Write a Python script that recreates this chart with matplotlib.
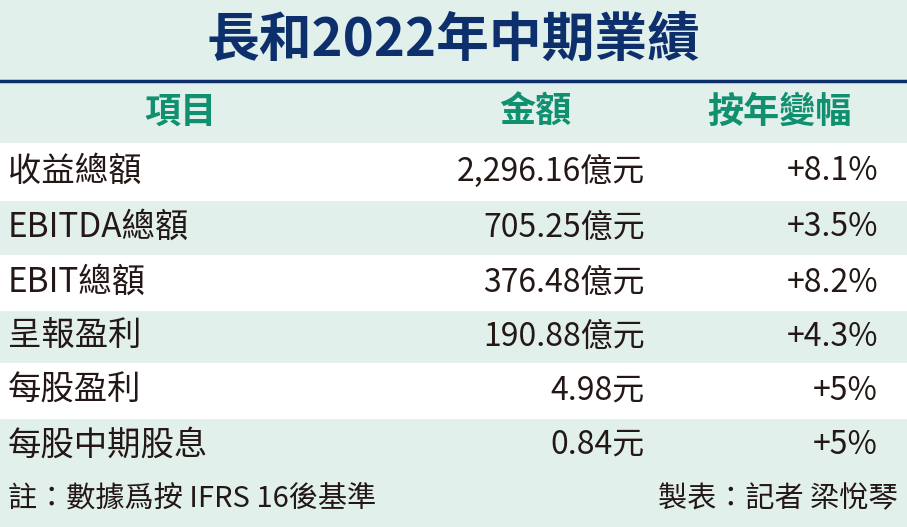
import matplotlib
matplotlib.use("Agg")
import matplotlib.pyplot as plt
from matplotlib.patches import Rectangle

plt.rcParams['font.family'] = ['Noto Sans CJK TC', 'DejaVu Sans']

title = "長和2022年中期業績"
headers = ["項目", "金額", "按年變幅"]
items = ["收益總額", "EBITDA總額", "EBIT總額", "呈報盈利", "每股盈利", "每股中期股息"]
amounts = ["2,296.16億元", "705.25億元", "376.48億元", "190.88億元", "4.98元", "0.84元"]
changes = ["+8.1%", "+3.5%", "+8.2%", "+4.3%", "+5%", "+5%"]
note_left = "註：數據爲按 IFRS 16後基準"
note_right = "製表：記者 梁悅琴"

W, H = 907, 527
fig = plt.figure(figsize=(W/100, H/100), dpi=100)
ax = fig.add_axes([0, 0, 1, 1])
ax.set_xlim(0, W); ax.set_ylim(H, 0); ax.axis('off')
bg = '#e2f0ec'
fig.patch.set_facecolor(bg)
ax.add_patch(Rectangle((0, 0), W, H, color=bg, zorder=0))

ax.text(W/2, 40, title, ha='center', va='center', fontsize=38, fontweight='bold', color='#0d2f6b')
ax.plot([0, W], [81, 81], color='#0d2f6b', lw=2.5)

bounds = [143, 200, 255, 310, 363, 418, 472]
hy = 112
ax.text(180, hy, headers[0], ha='center', va='center', fontsize=26, fontweight='bold', color='#119070')
ax.text(535, hy, headers[1], ha='center', va='center', fontsize=26, fontweight='bold', color='#119070')
ax.text(780, hy, headers[2], ha='center', va='center', fontsize=26, fontweight='bold', color='#119070')

for i in range(len(items)):
    y0, y1 = bounds[i], bounds[i+1]
    if i % 2 == 0:
        ax.add_patch(Rectangle((0, y0), W, y1-y0, color='white', zorder=0.5))
    yc = (y0 + y1) / 2
    ax.text(8, yc, items[i], ha='left', va='center', fontsize=24, color='#231815')
    ax.text(645, yc, amounts[i], ha='right', va='center', fontsize=23, color='#231815')
    ax.text(878, yc, changes[i], ha='right', va='center', fontsize=23, color='#231815')

ax.text(8, 499, note_left, ha='left', va='center', fontsize=21, color='#231815')
ax.text(898, 499, note_right, ha='right', va='center', fontsize=21, color='#231815')

fig.savefig("out.png", dpi=100, facecolor=bg)
